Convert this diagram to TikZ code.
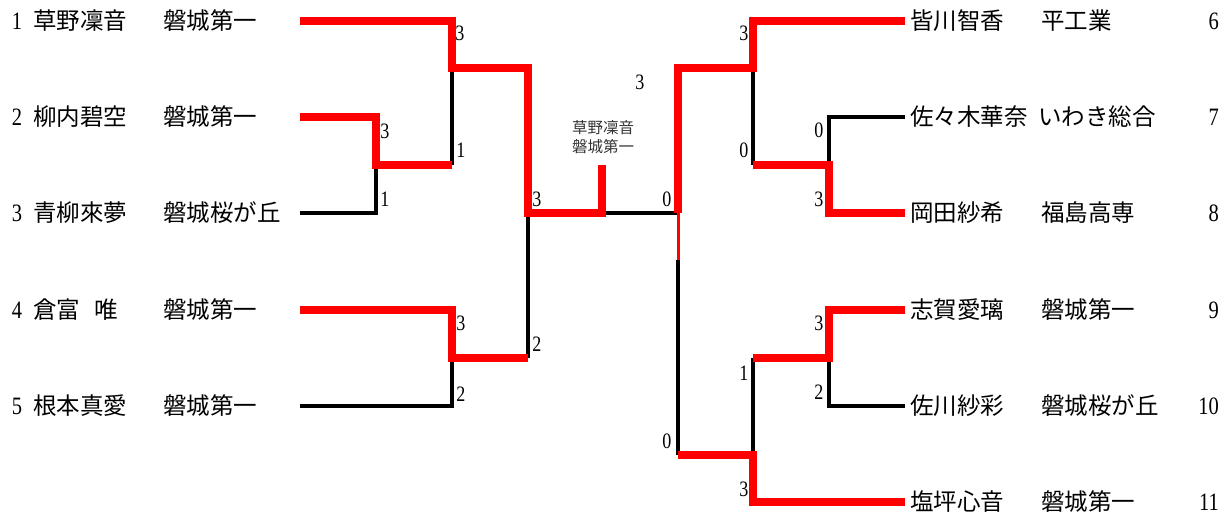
\documentclass[tikz,border=0pt]{standalone}
\usepackage{graphicx}
\usepackage{fontspec}
\setmainfont{Liberation Serif}
\newfontfamily\jp{Noto Sans CJK JP}
\newcommand{\narrowdig}[1]{\scalebox{0.82}[1]{#1}}
\begin{document}
\begin{tikzpicture}[x=1pt,y=-1pt,
  nm/.style={inner sep=0pt,anchor=west,font=\jp\fontsize{23.5}{24}\selectfont},
  rownum/.style={inner sep=0pt,font=\fontsize{25}{25}\selectfont},
  score/.style={inner sep=0pt,font=\fontsize{22}{22}\selectfont},
  small/.style={inner sep=0pt,font=\jp\fontsize{15.5}{16}\selectfont,text=black!80},
  win/.style={draw=red,line width=7.5pt},
  winthin/.style={draw=red,line width=3pt},
  lose/.style={draw=black,line width=3.2pt}]
\useasboundingbox (0,0) rectangle (1229,522);
% ---- left entries
\node[rownum] (k1) at (17,21) {\narrowdig{1}};
\node[nm] (p1) at (33,21) {草野凜音};
\node[nm] (s1) at (163,21) {磐城第一};
\node[rownum] (k2) at (17,117) {\narrowdig{2}};
\node[nm] (p2) at (33,117) {柳内碧空};
\node[nm] (s2) at (163,117) {磐城第一};
\node[rownum] (k3) at (17,213) {\narrowdig{3}};
\node[nm] (p3) at (33,213) {青柳來夢};
\node[nm] (s3) at (163,213) {磐城桜が丘};
\node[rownum] (k4) at (17,310) {\narrowdig{4}};
\node[nm] (p4) at (33,310) {倉富\hspace{14pt}唯};
\node[nm] (s4) at (163,310) {磐城第一};
\node[rownum] (k5) at (17,406) {\narrowdig{5}};
\node[nm] (p5) at (33,406) {根本真愛};
\node[nm] (s5) at (163,406) {磐城第一};
% ---- right entries
\node[nm] (p6) at (910,21) {皆川智香};
\node[nm] (s6) at (1041,21) {平工業};
\node[rownum,anchor=east] (k6) at (1219,21) {\narrowdig{6}};
\node[nm] (p7) at (910,117) {佐々木華奈};
\node[nm] (s7) at (1038,117) {いわき総合};
\node[rownum,anchor=east] (k7) at (1219,117) {\narrowdig{7}};
\node[nm] (p8) at (910,213) {岡田紗希};
\node[nm] (s8) at (1041,213) {福島高専};
\node[rownum,anchor=east] (k8) at (1219,213) {\narrowdig{8}};
\node[nm] (p9) at (910,310) {志賀愛璃};
\node[nm] (s9) at (1041,310) {磐城第一};
\node[rownum,anchor=east] (k9) at (1219,310) {\narrowdig{9}};
\node[nm] (p10) at (910,406) {佐川紗彩};
\node[nm] (s10) at (1041,406) {磐城桜が丘};
\node[rownum,anchor=east] (k10) at (1219,406) {\narrowdig{10}};
\node[nm] (p11) at (910,502) {塩坪心音};
\node[nm] (s11) at (1041,502) {磐城第一};
\node[rownum,anchor=east] (k11) at (1219,502) {\narrowdig{11}};
% ---- champion
\node[small] (ch1) at (603,128) {草野凜音};
\node[small] (ch2) at (603,147) {磐城第一};
% ---- coordinates
\coordinate (e1) at (300,21);
\coordinate (e2) at (300,117);
\coordinate (e3) at (300,213);
\coordinate (e4) at (300,310);
\coordinate (e5) at (300,406);
\coordinate (m23) at (376,165);
\coordinate (m1) at (452,68);
\coordinate (m1b) at (452,165);
\coordinate (m45) at (452,358);
\coordinate (sf) at (528,213);
\coordinate (sfb) at (528,358);
\coordinate (w) at (602,213);
\coordinate (wt) at (602,165);
\coordinate (f1) at (905,21);
\coordinate (f2) at (905,117);
\coordinate (f3) at (905,213);
\coordinate (f4) at (905,310);
\coordinate (f5) at (905,406);
\coordinate (f6) at (905,502);
\coordinate (q1) at (753,68);
\coordinate (q1b) at (753,165);
\coordinate (q2) at (829,165);
\coordinate (q3) at (829,358);
\coordinate (q4t) at (753,358);
\coordinate (q4) at (753,455);
\coordinate (rt) at (678,68);
\coordinate (r) at (678,213);
\coordinate (rm) at (678,260);
\coordinate (rb) at (678,455);
% ---- losing lines
\draw[lose] (e3) -| (m23);
\draw[lose] (m1) -- (m1b);
\draw[lose] (e5) -| (m45);
\draw[lose] (sf) -- (sfb);
\draw[lose] (w) -- (r);
\draw[lose] (rm) -- (rb);
\draw[lose] (q1) -- (q1b);
\draw[lose] (f2) -| (q2);
\draw[lose] (f5) -| (q3);
\draw[lose] (q4t) -- (q4);
% ---- winning lines
\draw[win] (e1) -| (m1) -- (m1 -| sf) -- (sf) -- (w) -- (wt);
\draw[win] (e2) -| (m23) -- (m1b);
\draw[win] (e4) -| (m45) -- (sfb);
\draw[win] (f1) -| (q1) -- (rt) -- (r);
\draw[winthin] (r) -- (rm);
\draw[win] (f3) -| (q2) -- (q1b);
\draw[win] (f4) -| (q3) -- (q4t);
\draw[win] (f6) -| (q4) -- (rb);
% ---- scores
\node[score] (c1) at (460,33) {\narrowdig{3}};
\node[score] (c2) at (385,131) {\narrowdig{3}};
\node[score] (c3) at (461,150) {\narrowdig{1}};
\node[score] (c4) at (385,199) {\narrowdig{1}};
\node[score] (c5) at (537,199) {\narrowdig{3}};
\node[score] (c6) at (461,323) {\narrowdig{3}};
\node[score] (c7) at (537,344) {\narrowdig{2}};
\node[score] (c8) at (461,394) {\narrowdig{2}};
\node[score] (c9) at (640,82) {\narrowdig{3}};
\node[score] (c10) at (667,199) {\narrowdig{0}};
\node[score] (c11) at (744,33) {\narrowdig{3}};
\node[score] (c12) at (744,150) {\narrowdig{0}};
\node[score] (c13) at (819,130) {\narrowdig{0}};
\node[score] (c14) at (819,199) {\narrowdig{3}};
\node[score] (c15) at (819,323) {\narrowdig{3}};
\node[score] (c16) at (819,392) {\narrowdig{2}};
\node[score] (c17) at (744,373) {\narrowdig{1}};
\node[score] (c18) at (667,441) {\narrowdig{0}};
\node[score] (c19) at (744,489) {\narrowdig{3}};
\end{tikzpicture}
\end{document}
